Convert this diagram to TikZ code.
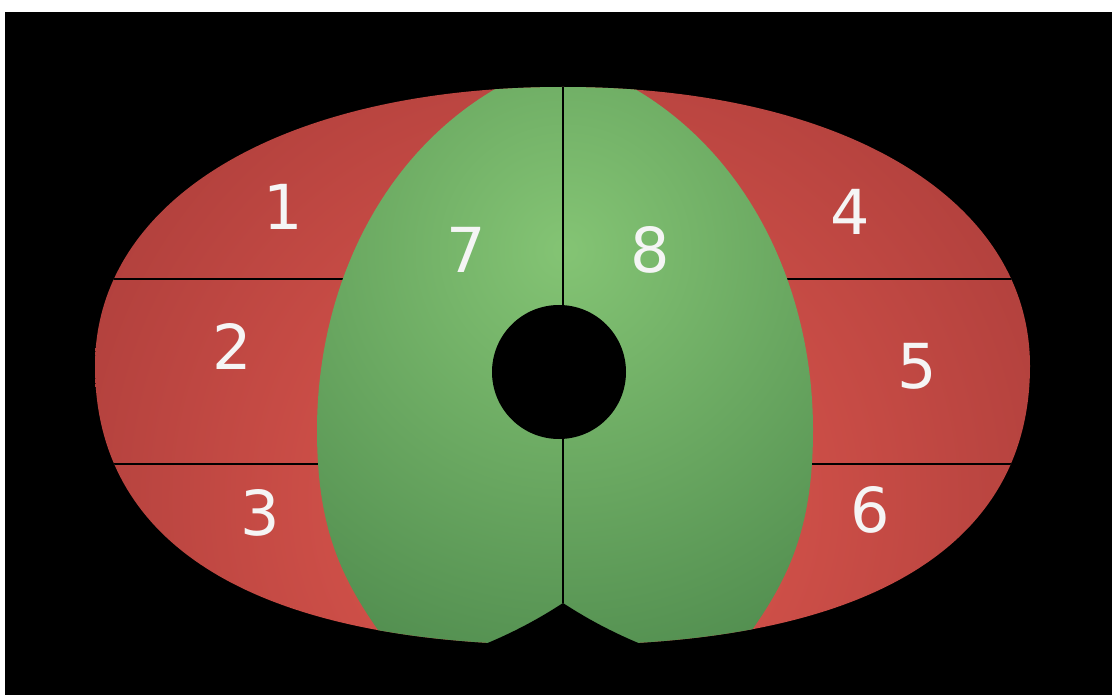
\documentclass[tikz,border=0pt]{standalone}
\usepackage{fontspec}
\setmainfont{DejaVu Sans}
\usetikzlibrary{calc}
\definecolor{redL}{HTML}{E35A50}
\definecolor{redD}{HTML}{A53A38}
\definecolor{grnL}{HTML}{84C474}
\definecolor{grnD}{HTML}{3F7A42}
\colorlet{ink}{white!96!black}
\tikzset{
  digit/.style  ={text=ink, font=\fontsize{62}{70}\selectfont, inner sep=0pt},
  divider/.style={draw=black, line width=2pt},
  seam/.style   ={draw=black, line width=1.8pt},
  hole/.style   ={circle, fill=black, minimum size=134pt, inner sep=0pt},
}
% outer face, pixel coordinates (y down)
\newcommand{\faceoutline}{(95,366) .. controls (95,199) and (283,87) .. (563,87)
  .. controls (843,87) and (1030,199) .. (1030,366)
  .. controls (1030,547) and (867,645) .. (563,645)
  .. controls (258,645) and (95,547) .. cycle}
% the two green lobes
\newcommand{\lobeoutline}{(565,58) .. controls (400,110) and (317,270) .. (317,430)
  .. controls (317,540) and (347,590) .. (400,660) -- (730,660)
  .. controls (783,590) and (813,540) .. (813,430)
  .. controls (813,270) and (730,110) .. (565,58) -- cycle}

\begin{document}
\begin{tikzpicture}[x=1pt, y=-1pt]

% --- frame ---
\fill[white] (0,0) rectangle (1112,695);
\fill[black] (5,12) rectangle (1112,695);
\useasboundingbox (0,0) rectangle (1112,695);

\coordinate (top)   at (563,60);
\coordinate (notch) at (563,603);

% --- red face, dividers, green lobes ---
\begin{scope}
  \clip \faceoutline;
  \shade[inner color=redL, outer color=redD] (565,500) circle (650pt);
  \draw[divider] (60,279.5) -- (1070,279.5);
  \draw[divider] (60,464) -- (1070,464);
  \begin{scope}
    \clip \lobeoutline;
    \shade[inner color=grnL, outer color=grnD] (565,250) circle (600pt);
  \end{scope}
  \draw[seam] (top) -- (notch);
\end{scope}

% --- notch and hole ---
\fill[black] (notch) .. controls (540,618) and (510,635) .. (470,650) -- (470,672)
  -- (656,672) -- (656,650) .. controls (616,635) and (586,618) .. (notch) -- cycle;
\node[hole] (hole) at (559,372) {};

% --- numbers ---
\node[digit] (n1) at (283,207) {1};
\node[digit] (n2) at (232,346) {2};
\node[digit] (n3) at (260,513) {3};
\node[digit] (n4) at (850,212) {4};
\node[digit] (n5) at (917,366) {5};
\node[digit] (n6) at (870,510) {6};
\node[digit] (n7) at (466,250) {7};
\node[digit] (n8) at (650,250) {8};

\end{tikzpicture}
\end{document}
